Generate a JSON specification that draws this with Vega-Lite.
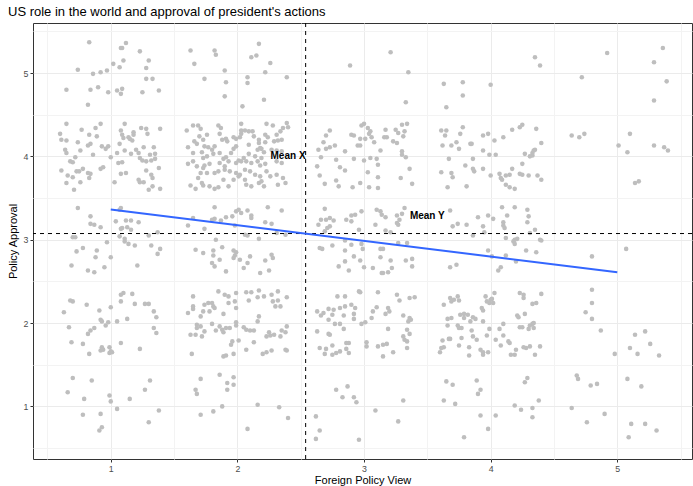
{
  "$schema": "https://vega.github.io/schema/vega-lite/v6.json",
  "width": 659,
  "height": 436,
  "autosize": "none",
  "padding": {"left": 33, "top": 23, "right": 1, "bottom": 27},
  "background": "white",
  "title": {"text": "US role in the world and approval of president's actions", "anchor": "start", "frame": "group", "dx": -25, "offset": 4, "fontSize": 13, "fontWeight": "normal", "color": "#000000", "font": "Liberation Sans"},
  "config": {
    "view": {"stroke": "#333333", "strokeWidth": 1},
    "axis": {"domain": false, "labelFont": "Liberation Sans", "titleFont": "Liberation Sans", "labelFontSize": 8.8, "labelColor": "#4D4D4D", "titleFontSize": 11, "titleFontWeight": "normal", "titleColor": "#000000", "tickColor": "#333333", "tickSize": 3, "labelPadding": 2}
  },
  "datasets": {
    "pts": [
{"x":0.83,"y":5.37},{"x":1.08,"y":5.30},{"x":1.09,"y":5.30},{"x":1.12,"y":5.36},{"x":1.23,"y":5.26},{"x":1.30,"y":5.15},{"x":1.02,"y":5.11},{"x":1.07,"y":5.07},{"x":1.10,"y":5.15},{"x":1.28,"y":5.06},{"x":0.74,"y":5.04},{"x":0.86,"y":4.99},{"x":0.92,"y":5.01},{"x":0.97,"y":5.03},{"x":1.28,"y":4.93},{"x":1.33,"y":4.93},{"x":0.65,"y":4.80},{"x":0.84,"y":4.80},{"x":0.90,"y":4.83},{"x":0.98,"y":4.77},{"x":1.05,"y":4.79},{"x":1.09,"y":4.81},{"x":1.08,"y":4.75},{"x":1.25,"y":4.77},{"x":1.38,"y":4.79},{"x":0.82,"y":4.62},
{"x":1.63,"y":5.27},{"x":1.66,"y":5.11},{"x":1.82,"y":5.27},{"x":1.83,"y":5.22},{"x":2.17,"y":5.35},{"x":2.11,"y":5.19},{"x":2.15,"y":5.21},{"x":2.26,"y":5.12},{"x":1.90,"y":5.03},{"x":2.22,"y":5.01},{"x":1.74,"y":4.93},{"x":1.91,"y":4.89},{"x":2.08,"y":4.95},{"x":2.08,"y":4.88},{"x":2.39,"y":4.95},{"x":1.90,"y":4.72},{"x":2.21,"y":4.68},{"x":2.04,"y":4.60},
{"x":2.89,"y":5.09},{"x":3.21,"y":5.25},{"x":3.35,"y":5.01},{"x":3.33,"y":4.65},{"x":3.63,"y":4.87},{"x":3.78,"y":4.89},{"x":3.78,"y":4.73},{"x":3.65,"y":4.59},
{"x":4.00,"y":4.86},{"x":4.35,"y":5.19},{"x":4.39,"y":5.09},{"x":4.72,"y":4.95},{"x":4.92,"y":5.24},{"x":5.36,"y":5.30},{"x":5.29,"y":5.13},{"x":5.39,"y":4.90},{"x":5.29,"y":4.67},
{"x":0.65,"y":4.39},{"x":0.77,"y":4.32},{"x":0.88,"y":4.34},{"x":0.92,"y":4.39},{"x":0.60,"y":4.27},{"x":0.61,"y":4.20},{"x":0.65,"y":4.19},{"x":0.74,"y":4.17},{"x":0.83,"y":4.26},{"x":0.89,"y":4.24},{"x":0.84,"y":4.15},{"x":0.82,"y":4.13},{"x":0.64,"y":4.08},{"x":0.65,"y":4.04},{"x":0.76,"y":4.07},{"x":0.86,"y":4.02},{"x":0.93,"y":4.12},{"x":0.96,"y":4.09},{"x":0.98,"y":4.12},{"x":0.72,"y":3.99},
{"x":1.11,"y":4.39},{"x":1.08,"y":4.31},{"x":1.09,"y":4.26},{"x":1.10,"y":4.22},{"x":1.14,"y":4.23},{"x":1.15,"y":4.21},{"x":1.18,"y":4.26},{"x":1.18,"y":4.29},{"x":1.17,"y":4.19},{"x":1.24,"y":4.34},{"x":1.28,"y":4.33},{"x":1.29,"y":4.27},{"x":1.39,"y":4.33},{"x":1.07,"y":4.15},{"x":1.00,"y":3.99},{"x":1.05,"y":4.04},{"x":1.11,"y":4.07},{"x":1.16,"y":4.03},{"x":1.20,"y":4.08},{"x":1.22,"y":4.04},{"x":1.23,"y":3.98},{"x":1.26,"y":4.11},{"x":1.34,"y":4.11},{"x":1.31,"y":4.02},{"x":1.35,"y":4.03},{"x":1.35,"y":3.97},
{"x":0.68,"y":3.94},{"x":0.70,"y":3.93},{"x":0.61,"y":3.83},{"x":0.66,"y":3.77},{"x":0.70,"y":3.75},{"x":0.73,"y":3.82},{"x":0.75,"y":3.82},{"x":0.78,"y":3.85},{"x":0.82,"y":3.80},{"x":0.84,"y":3.79},{"x":0.83,"y":3.74},{"x":0.76,"y":3.69},{"x":0.65,"y":3.68},{"x":0.71,"y":3.60},{"x":0.92,"y":3.85},{"x":0.94,"y":3.87},{"x":1.03,"y":3.69},{"x":1.06,"y":3.92},{"x":1.09,"y":3.93},{"x":1.08,"y":3.79},{"x":1.12,"y":3.80},{"x":1.25,"y":3.95},{"x":1.28,"y":3.94},{"x":1.32,"y":3.95},{"x":1.38,"y":3.86},{"x":1.28,"y":3.83},{"x":1.32,"y":3.78},{"x":1.33,"y":3.74},{"x":1.22,"y":3.72},{"x":1.23,"y":3.69},{"x":1.26,"y":3.69},{"x":1.33,"y":3.64},{"x":1.30,"y":3.60},{"x":1.39,"y":3.61},
{"x":0.74,"y":3.38},{"x":0.84,"y":3.28},{"x":0.84,"y":3.19},{"x":0.87,"y":3.18},{"x":0.92,"y":3.15},{"x":1.08,"y":3.38},{"x":1.07,"y":3.36},{"x":1.04,"y":3.22},{"x":1.12,"y":3.23},{"x":1.16,"y":3.23},{"x":1.22,"y":3.21},{"x":1.13,"y":3.15},{"x":1.16,"y":3.12},{"x":1.08,"y":3.13},{"x":1.09,"y":3.14},{"x":1.37,"y":3.09},{"x":1.30,"y":3.05},{"x":0.70,"y":3.03},{"x":0.72,"y":3.03},{"x":0.97,"y":2.97},{"x":1.07,"y":3.04},{"x":1.11,"y":3.01},{"x":1.11,"y":2.98},{"x":1.14,"y":2.95},{"x":1.19,"y":2.93},{"x":1.32,"y":2.93},{"x":1.39,"y":2.89},{"x":1.37,"y":2.83},{"x":0.78,"y":2.90},{"x":0.73,"y":2.86},{"x":0.89,"y":2.87},{"x":0.88,"y":2.79},{"x":1.00,"y":2.79},{"x":0.69,"y":2.69},{"x":0.82,"y":2.63},{"x":0.87,"y":2.61},{"x":0.95,"y":2.67},{"x":1.21,"y":2.69},
{"x":1.08,"y":2.34},{"x":1.10,"y":2.36},{"x":1.17,"y":2.35},{"x":0.68,"y":2.27},{"x":0.70,"y":2.26},{"x":0.81,"y":2.22},{"x":1.08,"y":2.26},{"x":1.19,"y":2.23},{"x":1.27,"y":2.23},{"x":1.30,"y":2.23},{"x":0.63,"y":2.13},{"x":0.91,"y":2.15},{"x":1.00,"y":2.19},{"x":1.34,"y":2.14},{"x":1.36,"y":2.07},{"x":0.67,"y":1.95},{"x":0.92,"y":2.04},{"x":0.93,"y":2.02},{"x":0.98,"y":2.01},{"x":1.05,"y":2.02},{"x":0.96,"y":1.97},{"x":1.13,"y":2.05},{"x":0.87,"y":1.94},{"x":0.84,"y":1.91},{"x":0.82,"y":1.87},{"x":1.34,"y":1.94},{"x":1.36,"y":1.88},{"x":0.69,"y":1.77},{"x":0.78,"y":1.75},{"x":0.83,"y":1.63},{"x":0.93,"y":1.71},{"x":0.92,"y":1.67},{"x":0.94,"y":1.68},{"x":0.99,"y":1.71},{"x":1.00,"y":1.66},{"x":1.01,"y":1.65},{"x":0.99,"y":1.64},{"x":1.08,"y":1.76},{"x":1.23,"y":1.69},
{"x":0.70,"y":1.34},{"x":0.85,"y":1.31},{"x":0.66,"y":1.17},{"x":0.79,"y":1.09},{"x":0.99,"y":1.13},{"x":1.00,"y":1.06},{"x":1.05,"y":0.97},{"x":1.15,"y":1.09},{"x":1.27,"y":1.20},{"x":1.31,"y":1.31},{"x":1.38,"y":0.95},{"x":0.78,"y":0.90},{"x":0.92,"y":0.91},{"x":1.30,"y":0.81},{"x":0.93,"y":0.75},{"x":0.91,"y":0.71},
{"x":1.60,"y":4.31},{"x":1.65,"y":4.37},{"x":1.69,"y":4.37},{"x":1.71,"y":4.33},{"x":1.70,"y":4.24},{"x":1.66,"y":4.18},{"x":1.68,"y":4.15},{"x":1.61,"y":4.11},{"x":1.73,"y":4.20},{"x":1.76,"y":4.26},{"x":1.74,"y":4.12},{"x":1.77,"y":4.11},{"x":1.80,"y":4.08},{"x":1.82,"y":4.12},{"x":1.85,"y":4.37},{"x":1.87,"y":4.34},{"x":1.86,"y":4.27},{"x":1.88,"y":4.20},{"x":1.91,"y":4.21},{"x":1.92,"y":4.18},{"x":1.97,"y":4.23},{"x":1.99,"y":4.21},{"x":2.02,"y":4.23},{"x":2.03,"y":4.27},{"x":2.03,"y":4.39},{"x":2.03,"y":4.31},{"x":2.06,"y":4.31},{"x":2.09,"y":4.30},{"x":2.12,"y":4.30},{"x":2.13,"y":4.24},{"x":2.17,"y":4.20},{"x":2.17,"y":4.16},{"x":2.18,"y":4.10},{"x":2.23,"y":4.39},{"x":2.28,"y":4.37},{"x":2.22,"y":4.26},{"x":2.24,"y":4.23},{"x":2.22,"y":4.17},{"x":2.31,"y":4.26},{"x":2.34,"y":4.30},{"x":2.36,"y":4.34},{"x":2.39,"y":4.40},{"x":2.40,"y":4.35},{"x":2.29,"y":4.18},{"x":2.32,"y":4.19},{"x":2.35,"y":4.20},{"x":1.65,"y":4.04},{"x":1.72,"y":4.05},{"x":1.73,"y":3.98},{"x":1.76,"y":4.00},{"x":1.81,"y":4.03},{"x":1.86,"y":4.04},{"x":1.89,"y":3.97},{"x":1.91,"y":3.99},{"x":1.95,"y":4.04},{"x":1.97,"y":4.09},{"x":1.99,"y":4.12},{"x":2.01,"y":3.95},{"x":2.05,"y":3.98},{"x":2.09,"y":4.14},{"x":2.09,"y":4.03},{"x":2.14,"y":4.00},{"x":2.16,"y":4.08},{"x":2.19,"y":3.98},{"x":2.19,"y":4.09},{"x":2.21,"y":4.05},{"x":2.27,"y":4.08},{"x":2.31,"y":4.07},{"x":2.35,"y":4.06},
{"x":1.65,"y":3.94},{"x":1.61,"y":3.91},{"x":1.68,"y":3.88},{"x":1.73,"y":3.86},{"x":1.74,"y":3.89},{"x":1.78,"y":3.91},{"x":1.86,"y":3.92},{"x":1.90,"y":3.88},{"x":1.93,"y":3.94},{"x":1.99,"y":3.92},{"x":2.03,"y":3.94},{"x":2.07,"y":3.94},{"x":2.11,"y":3.92},{"x":2.16,"y":3.94},{"x":2.18,"y":3.89},{"x":2.22,"y":3.91},{"x":2.31,"y":3.94},{"x":2.35,"y":3.92},
{"x":1.71,"y":3.80},{"x":1.76,"y":3.80},{"x":1.82,"y":3.80},{"x":1.85,"y":3.82},{"x":1.90,"y":3.84},{"x":1.94,"y":3.82},{"x":1.99,"y":3.80},{"x":2.02,"y":3.78},{"x":2.06,"y":3.84},{"x":2.10,"y":3.82},{"x":2.14,"y":3.78},{"x":2.18,"y":3.76},{"x":2.23,"y":3.82},{"x":2.26,"y":3.76},{"x":2.31,"y":3.78},{"x":2.36,"y":3.74},
{"x":1.69,"y":3.74},{"x":1.72,"y":3.68},{"x":1.67,"y":3.61},{"x":1.73,"y":3.65},{"x":1.78,"y":3.64},{"x":1.82,"y":3.61},{"x":1.85,"y":3.63},{"x":1.89,"y":3.72},{"x":1.93,"y":3.64},{"x":1.97,"y":3.72},{"x":2.01,"y":3.76},{"x":2.06,"y":3.72},{"x":2.07,"y":3.66},{"x":2.11,"y":3.64},{"x":2.17,"y":3.68},{"x":2.19,"y":3.70},{"x":2.21,"y":3.64},{"x":2.32,"y":3.66},{"x":2.38,"y":3.68},{"x":1.63,"y":3.65},
{"x":1.82,"y":3.39},{"x":1.65,"y":3.26},{"x":1.61,"y":3.17},{"x":1.74,"y":3.13},{"x":1.80,"y":3.24},{"x":1.82,"y":3.25},{"x":1.87,"y":3.23},{"x":1.91,"y":3.27},{"x":1.96,"y":3.28},{"x":1.99,"y":3.34},{"x":2.01,"y":3.36},{"x":2.03,"y":3.32},{"x":2.08,"y":3.35},{"x":2.11,"y":3.29},{"x":2.11,"y":3.26},{"x":1.98,"y":3.17},{"x":2.24,"y":3.39},{"x":2.22,"y":3.21},{"x":2.27,"y":3.19},{"x":2.35,"y":3.35},{"x":2.06,"y":3.06},{"x":2.08,"y":3.05},{"x":2.17,"y":3.01},{"x":2.31,"y":3.08},{"x":2.38,"y":3.06},{"x":1.83,"y":3.00},{"x":1.67,"y":2.88},{"x":1.73,"y":2.84},{"x":1.81,"y":2.87},{"x":1.81,"y":2.81},{"x":1.80,"y":2.72},{"x":1.82,"y":2.68},{"x":1.86,"y":2.76},{"x":1.88,"y":2.91},{"x":1.97,"y":2.87},{"x":1.99,"y":2.85},{"x":1.98,"y":2.81},{"x":1.97,"y":2.78},{"x":2.02,"y":2.76},{"x":2.10,"y":2.80},{"x":2.08,"y":2.72},{"x":2.05,"y":2.66},{"x":1.91,"y":2.62},{"x":2.22,"y":2.75},{"x":2.27,"y":2.82},{"x":2.28,"y":2.78},{"x":2.25,"y":2.63},{"x":2.18,"y":2.60},
{"x":1.65,"y":2.32},{"x":1.85,"y":2.38},{"x":1.90,"y":2.34},{"x":1.93,"y":2.32},{"x":1.99,"y":2.36},{"x":2.07,"y":2.37},{"x":2.11,"y":2.37},{"x":2.17,"y":2.39},{"x":2.21,"y":2.32},{"x":2.16,"y":2.31},{"x":2.27,"y":2.34},{"x":2.32,"y":2.38},{"x":2.39,"y":2.31},
{"x":1.61,"y":2.12},{"x":1.65,"y":2.20},{"x":1.65,"y":2.17},{"x":1.71,"y":2.08},{"x":1.73,"y":2.14},{"x":1.74,"y":2.22},{"x":1.77,"y":2.24},{"x":1.80,"y":2.24},{"x":1.81,"y":2.20},{"x":1.78,"y":2.14},{"x":1.82,"y":2.18},{"x":1.89,"y":2.11},{"x":1.93,"y":2.24},{"x":1.98,"y":2.26},{"x":1.99,"y":2.18},{"x":2.09,"y":2.27},{"x":2.17,"y":2.08},{"x":2.16,"y":2.02},{"x":2.28,"y":2.26},{"x":2.30,"y":2.20},{"x":2.32,"y":2.27},{"x":2.34,"y":2.20},
{"x":1.63,"y":1.86},{"x":1.67,"y":1.86},{"x":1.68,"y":1.98},{"x":1.68,"y":1.94},{"x":1.71,"y":1.96},{"x":1.72,"y":1.84},{"x":1.74,"y":1.90},{"x":1.80,"y":1.99},{"x":1.83,"y":1.91},{"x":1.86,"y":1.96},{"x":1.88,"y":1.92},{"x":1.89,"y":1.89},{"x":1.91,"y":1.94},{"x":1.94,"y":1.94},{"x":1.99,"y":2.01},{"x":1.99,"y":1.97},{"x":2.05,"y":1.95},{"x":2.07,"y":1.92},{"x":2.10,"y":1.91},{"x":2.13,"y":1.91},{"x":2.23,"y":1.84},{"x":2.25,"y":1.89},{"x":2.26,"y":1.85},{"x":2.29,"y":1.86},{"x":2.35,"y":1.91},{"x":2.38,"y":1.89},{"x":2.39,"y":1.96},{"x":2.34,"y":1.84},{"x":1.96,"y":1.78},{"x":1.95,"y":1.74},{"x":2.01,"y":1.79},{"x":2.13,"y":1.77},
{"x":1.64,"y":1.63},{"x":1.89,"y":1.60},{"x":1.91,"y":1.61},{"x":1.97,"y":1.63},{"x":2.07,"y":1.68},{"x":2.20,"y":1.63},{"x":2.23,"y":1.65},{"x":2.27,"y":1.67},{"x":2.38,"y":1.68},{"x":2.39,"y":1.67},
{"x":1.71,"y":1.33},{"x":1.67,"y":1.20},{"x":1.68,"y":1.15},{"x":1.86,"y":1.38},{"x":1.92,"y":1.28},{"x":1.97,"y":1.35},{"x":1.97,"y":1.26},{"x":1.92,"y":1.20},{"x":1.88,"y":1.00},{"x":1.81,"y":0.94},{"x":1.71,"y":0.90},{"x":2.16,"y":1.02},{"x":2.33,"y":0.99},{"x":2.40,"y":0.86},{"x":2.08,"y":0.73},
{"x":2.73,"y":4.31},{"x":2.70,"y":4.25},{"x":2.68,"y":4.17},{"x":2.64,"y":4.08},{"x":2.70,"y":4.09},{"x":2.73,"y":4.11},{"x":2.77,"y":4.13},{"x":2.66,"y":3.99},{"x":2.78,"y":3.96},{"x":2.85,"y":4.06},{"x":2.90,"y":4.26},{"x":2.92,"y":4.25},{"x":2.92,"y":3.97},{"x":2.95,"y":4.13},{"x":2.97,"y":4.13},{"x":2.97,"y":4.21},{"x":3.01,"y":4.21},{"x":2.98,"y":4.37},{"x":3.00,"y":4.39},{"x":3.03,"y":4.34},{"x":3.05,"y":4.30},{"x":3.04,"y":4.27},{"x":3.06,"y":4.23},{"x":3.08,"y":4.17},{"x":3.00,"y":3.95},{"x":3.05,"y":3.98},{"x":3.10,"y":3.97},{"x":3.13,"y":4.07},{"x":3.17,"y":4.32},{"x":3.16,"y":4.23},{"x":3.18,"y":4.23},{"x":3.23,"y":4.18},{"x":3.26,"y":4.16},{"x":3.25,"y":4.32},{"x":3.27,"y":4.28},{"x":3.30,"y":4.38},{"x":3.34,"y":4.39},{"x":3.32,"y":4.30},{"x":3.31,"y":4.24},{"x":3.30,"y":4.06},{"x":3.30,"y":4.02},{"x":3.33,"y":3.99},
{"x":2.63,"y":3.88},{"x":2.65,"y":3.77},{"x":2.69,"y":3.67},{"x":2.78,"y":3.71},{"x":2.80,"y":3.64},{"x":2.81,"y":3.87},{"x":2.85,"y":3.83},{"x":2.91,"y":3.63},{"x":2.97,"y":3.68},{"x":3.03,"y":3.81},{"x":3.04,"y":3.63},{"x":3.11,"y":3.75},{"x":3.11,"y":3.62},{"x":3.11,"y":3.90},{"x":3.29,"y":3.74},{"x":3.36,"y":3.85},{"x":3.38,"y":3.67},
{"x":2.69,"y":3.37},{"x":2.64,"y":3.18},{"x":2.66,"y":3.24},{"x":2.70,"y":3.24},{"x":2.73,"y":3.26},{"x":2.76,"y":3.23},{"x":2.71,"y":3.14},{"x":2.73,"y":3.16},{"x":2.69,"y":3.10},{"x":2.86,"y":3.24},{"x":2.90,"y":3.22},{"x":2.90,"y":3.29},{"x":2.93,"y":3.30},{"x":2.98,"y":3.34},{"x":3.09,"y":3.18},{"x":3.10,"y":3.36},{"x":3.13,"y":3.34},{"x":3.14,"y":3.30},{"x":3.17,"y":3.27},{"x":2.96,"y":3.12},{"x":3.17,"y":3.11},{"x":3.21,"y":3.09},{"x":3.26,"y":3.20},{"x":3.26,"y":3.29},{"x":3.28,"y":3.24},{"x":3.30,"y":3.31},{"x":3.32,"y":3.38},{"x":3.27,"y":3.18},{"x":2.65,"y":2.90},{"x":2.67,"y":2.89},{"x":2.75,"y":2.93},{"x":2.85,"y":2.99},{"x":2.90,"y":2.94},{"x":2.85,"y":2.87},{"x":2.98,"y":2.95},{"x":2.99,"y":2.89},{"x":3.13,"y":2.89},{"x":3.15,"y":2.89},{"x":3.27,"y":2.96},{"x":3.34,"y":2.96},{"x":2.85,"y":2.74},{"x":2.80,"y":2.68},{"x":2.88,"y":2.63},{"x":2.92,"y":2.80},{"x":2.97,"y":2.75},{"x":3.00,"y":2.67},{"x":3.07,"y":2.66},{"x":3.13,"y":2.79},{"x":3.14,"y":2.60},{"x":3.15,"y":2.60},{"x":3.19,"y":2.61},{"x":3.22,"y":2.66},{"x":3.21,"y":2.75},{"x":3.33,"y":2.75},{"x":3.38,"y":2.77},{"x":3.38,"y":2.68},
{"x":2.79,"y":2.32},{"x":2.85,"y":2.32},{"x":2.96,"y":2.38},{"x":2.97,"y":2.37},{"x":3.11,"y":2.37},{"x":3.26,"y":2.34},{"x":3.36,"y":2.30},{"x":3.40,"y":2.31},
{"x":2.63,"y":2.14},{"x":2.66,"y":2.09},{"x":2.68,"y":2.12},{"x":2.72,"y":2.17},{"x":2.75,"y":2.10},{"x":2.76,"y":2.16},{"x":2.72,"y":2.04},{"x":2.77,"y":1.99},{"x":2.81,"y":1.99},{"x":2.81,"y":2.18},{"x":2.84,"y":2.09},{"x":2.85,"y":2.20},{"x":2.90,"y":2.22},{"x":2.92,"y":2.11},{"x":2.92,"y":2.05},{"x":2.93,"y":2.18},{"x":2.98,"y":1.99},{"x":3.01,"y":2.01},{"x":3.06,"y":2.06},{"x":3.07,"y":2.14},{"x":3.10,"y":2.19},{"x":3.17,"y":2.11},{"x":3.19,"y":2.18},{"x":3.20,"y":2.14},{"x":3.28,"y":2.27},{"x":3.31,"y":2.09},{"x":3.35,"y":2.02},{"x":3.36,"y":2.06},{"x":3.37,"y":2.04},
{"x":2.63,"y":1.90},{"x":2.72,"y":1.87},{"x":2.73,"y":1.86},{"x":2.84,"y":1.93},{"x":2.65,"y":1.70},{"x":2.70,"y":1.69},{"x":2.69,"y":1.63},{"x":2.75,"y":1.62},{"x":2.75,"y":1.73},{"x":2.78,"y":1.64},{"x":2.81,"y":1.66},{"x":2.86,"y":1.76},{"x":2.88,"y":1.76},{"x":2.86,"y":1.69},{"x":2.88,"y":1.64},{"x":3.02,"y":1.77},{"x":3.02,"y":1.72},{"x":3.11,"y":1.72},{"x":3.15,"y":1.74},{"x":3.18,"y":1.75},{"x":3.15,"y":1.60},{"x":3.23,"y":1.65},{"x":3.19,"y":1.93},{"x":3.31,"y":1.84},{"x":3.32,"y":1.80},{"x":3.34,"y":1.78},{"x":3.34,"y":1.92},{"x":3.36,"y":1.87},{"x":3.34,"y":1.70},
{"x":2.78,"y":1.20},{"x":2.87,"y":1.24},{"x":2.83,"y":1.11},{"x":2.92,"y":1.11},{"x":2.94,"y":1.05},{"x":3.31,"y":1.07},{"x":3.09,"y":0.95},{"x":2.62,"y":0.88},{"x":2.65,"y":0.71},{"x":2.62,"y":0.61},{"x":2.96,"y":0.60},{"x":3.27,"y":0.82},
{"x":3.61,"y":4.31},{"x":3.65,"y":4.31},{"x":3.64,"y":4.25},{"x":3.78,"y":4.35},{"x":3.76,"y":4.27},{"x":3.73,"y":4.17},{"x":3.69,"y":4.13},{"x":3.62,"y":4.13},{"x":3.75,"y":4.09},{"x":3.84,"y":4.15},{"x":3.85,"y":4.15},{"x":3.67,"y":3.97},{"x":3.86,"y":3.97},{"x":3.94,"y":4.25},{"x":3.98,"y":4.27},{"x":3.94,"y":4.07},{"x":3.99,"y":4.02},{"x":4.04,"y":4.02},{"x":4.03,"y":4.19},{"x":4.10,"y":4.23},{"x":4.17,"y":4.32},{"x":4.23,"y":4.35},{"x":4.25,"y":4.38},{"x":4.36,"y":4.33},{"x":4.40,"y":4.16},{"x":4.27,"y":4.03},{"x":4.31,"y":4.00},{"x":4.33,"y":4.01},{"x":4.33,"y":4.04},{"x":4.34,"y":4.07},{"x":4.35,"y":4.08},
{"x":3.61,"y":3.81},{"x":3.66,"y":3.63},{"x":3.69,"y":3.80},{"x":3.70,"y":3.75},{"x":3.80,"y":3.89},{"x":3.81,"y":3.64},{"x":3.86,"y":3.85},{"x":3.87,"y":3.82},{"x":3.94,"y":3.85},{"x":4.00,"y":3.77},{"x":4.07,"y":3.79},{"x":4.08,"y":3.74},{"x":4.09,"y":3.72},{"x":4.12,"y":3.77},{"x":4.15,"y":3.78},{"x":4.17,"y":3.85},{"x":4.12,"y":3.66},{"x":4.15,"y":3.63},{"x":4.19,"y":3.61},{"x":4.23,"y":3.79},{"x":4.25,"y":3.78},{"x":4.25,"y":3.91},{"x":4.30,"y":3.77},{"x":4.37,"y":3.77},{"x":4.40,"y":3.72},
{"x":4.64,"y":4.25},{"x":4.70,"y":4.23},{"x":4.74,"y":4.27},{"x":5.01,"y":4.13},{"x":5.08,"y":4.05},{"x":5.10,"y":4.27},{"x":5.29,"y":4.13},{"x":5.37,"y":4.11},{"x":5.40,"y":4.07},{"x":5.14,"y":3.68},{"x":5.17,"y":3.70},
{"x":3.68,"y":3.35},{"x":3.70,"y":3.16},{"x":3.74,"y":3.19},{"x":3.81,"y":3.18},{"x":3.86,"y":3.05},{"x":3.90,"y":3.27},{"x":3.94,"y":3.16},{"x":3.95,"y":3.09},{"x":3.98,"y":3.29},{"x":4.02,"y":3.25},{"x":4.09,"y":3.39},{"x":4.10,"y":3.21},{"x":4.10,"y":3.17},{"x":4.11,"y":3.14},{"x":4.13,"y":3.29},{"x":4.19,"y":3.39},{"x":4.12,"y":3.02},{"x":4.18,"y":2.98},{"x":4.19,"y":3.00},{"x":4.21,"y":3.01},{"x":4.19,"y":2.95},{"x":4.29,"y":3.36},{"x":4.30,"y":3.28},{"x":4.29,"y":3.21},{"x":4.31,"y":3.08},{"x":4.35,"y":3.12},{"x":4.39,"y":3.00},{"x":4.40,"y":2.99},{"x":3.98,"y":2.87},{"x":4.01,"y":2.80},{"x":4.12,"y":2.81},{"x":4.20,"y":2.74},{"x":4.28,"y":2.87},{"x":4.36,"y":2.85},{"x":3.68,"y":2.67},{"x":3.73,"y":2.70},{"x":4.06,"y":2.63},{"x":4.08,"y":2.67},{"x":4.80,"y":2.80},{"x":5.07,"y":2.89},
{"x":3.68,"y":2.30},{"x":3.74,"y":2.32},{"x":3.96,"y":2.32},{"x":4.01,"y":2.29},{"x":4.03,"y":2.36},{"x":4.23,"y":2.36},{"x":4.26,"y":2.34},{"x":4.26,"y":2.30},{"x":4.40,"y":2.35},{"x":4.80,"y":2.40},
{"x":3.63,"y":2.22},{"x":3.69,"y":2.26},{"x":3.71,"y":2.28},{"x":3.75,"y":2.27},{"x":3.93,"y":2.18},{"x":3.94,"y":2.15},{"x":3.97,"y":2.26},{"x":3.99,"y":2.24},{"x":4.02,"y":2.24},{"x":4.00,"y":2.28},{"x":4.33,"y":2.23},{"x":4.36,"y":2.24},
{"x":3.76,"y":2.10},{"x":3.79,"y":2.11},{"x":3.79,"y":2.06},{"x":3.82,"y":2.10},{"x":3.84,"y":2.02},{"x":3.86,"y":2.07},{"x":3.88,"y":2.05},{"x":3.94,"y":2.02},{"x":3.66,"y":2.05},{"x":3.69,"y":2.06},{"x":3.66,"y":1.97},{"x":3.74,"y":1.97},{"x":3.75,"y":1.94},{"x":3.77,"y":1.94},
{"x":3.85,"y":1.91},{"x":3.86,"y":1.84},{"x":3.89,"y":1.80},{"x":3.97,"y":1.85},{"x":3.99,"y":1.93},{"x":4.04,"y":1.80},{"x":4.07,"y":1.93},{"x":4.10,"y":1.99},{"x":4.10,"y":1.85},{"x":4.08,"y":1.73},
{"x":3.62,"y":1.79},{"x":3.67,"y":1.81},{"x":3.68,"y":1.81},{"x":3.77,"y":1.82},{"x":3.75,"y":1.73},{"x":3.63,"y":1.71},{"x":3.61,"y":1.70},{"x":3.60,"y":1.65},{"x":3.83,"y":1.71},{"x":3.92,"y":1.68},{"x":3.94,"y":1.65},{"x":3.94,"y":1.62},{"x":3.98,"y":1.65},{"x":3.83,"y":1.61},
{"x":4.14,"y":1.78},{"x":4.15,"y":1.76},{"x":4.16,"y":1.62},{"x":4.19,"y":1.62},{"x":4.20,"y":1.68},{"x":4.26,"y":1.71},{"x":4.28,"y":1.70},{"x":4.31,"y":1.72},{"x":4.39,"y":1.72},{"x":4.35,"y":1.62},
{"x":4.21,"y":2.09},{"x":4.22,"y":2.07},{"x":4.27,"y":2.11},{"x":4.23,"y":1.95},{"x":4.25,"y":1.95},{"x":4.30,"y":1.93},{"x":4.31,"y":1.97},{"x":4.33,"y":1.99},{"x":4.34,"y":2.00},{"x":4.34,"y":1.94},
{"x":3.65,"y":1.30},{"x":3.70,"y":1.26},{"x":3.63,"y":1.07},{"x":3.72,"y":1.03},{"x":3.89,"y":1.31},{"x":3.92,"y":1.20},{"x":3.90,"y":1.15},{"x":3.92,"y":0.89},{"x":4.04,"y":0.89},{"x":3.98,"y":0.73},{"x":3.79,"y":0.63},{"x":4.19,"y":1.01},{"x":4.24,"y":0.96},{"x":4.29,"y":1.34},{"x":4.27,"y":1.29},{"x":4.33,"y":0.98},{"x":4.38,"y":1.07},{"x":4.33,"y":0.87},
{"x":4.80,"y":2.24},{"x":4.75,"y":2.13},{"x":4.80,"y":2.05},{"x":4.87,"y":1.91},{"x":4.98,"y":1.63},{"x":5.10,"y":1.70},{"x":5.14,"y":1.86},{"x":5.22,"y":1.90},{"x":5.26,"y":1.75},{"x":5.16,"y":1.63},{"x":5.33,"y":1.61},
{"x":4.68,"y":1.37},{"x":4.69,"y":1.33},{"x":4.79,"y":1.25},{"x":4.84,"y":1.27},{"x":4.64,"y":0.98},{"x":4.76,"y":0.81},{"x":4.90,"y":0.91},{"x":5.08,"y":1.33},{"x":5.19,"y":1.24},{"x":5.11,"y":0.79},{"x":5.22,"y":0.79},{"x":5.09,"y":0.63},{"x":5.31,"y":0.71}
    ],
    "fit": [{"x": 1, "y": 3.362}, {"x": 5, "y": 2.61}],
    "vline": [{"x": 2.539}],
    "hline": [{"y": 3.074}],
    "labels": [{"x": 2.40, "y": 4.0, "label": "Mean X"}, {"x": 3.50, "y": 3.28, "label": "Mean Y"}]
  },
  "layer": [
    {
      "data": {"name": "pts"},
      "mark": {"type": "circle", "color": "#BEBEBE", "opacity": 1, "size": 21},
      "encoding": {
        "x": {"field": "x", "type": "quantitative", "scale": {"domain": [0.386, 5.59], "nice": false, "zero": false},
          "title": "Foreign Policy View",
          "axis": {"values": [0.5, 1, 1.5, 2, 2.5, 3, 3.5, 4, 4.5, 5, 5.5], "labelExpr": "datum.value % 1 === 0 ? format(datum.value, 'd') : ''", "titlePadding": 2,
            "gridColor": {"condition": {"test": "datum.value % 1 !== 0", "value": "#F3F3F3"}, "value": "#EBEBEB"},
            "tickOpacity": {"condition": {"test": "datum.value % 1 !== 0", "value": 0}, "value": 1}}},
        "y": {"field": "y", "type": "quantitative", "scale": {"domain": [0.369, 5.60], "nice": false, "zero": false},
          "title": "Policy Approval",
          "axis": {"values": [0.5, 1, 1.5, 2, 2.5, 3, 3.5, 4, 4.5, 5, 5.5], "labelExpr": "datum.value % 1 === 0 ? format(datum.value, 'd') : ''", "titlePadding": 5,
            "gridColor": {"condition": {"test": "datum.value % 1 !== 0", "value": "#F3F3F3"}, "value": "#EBEBEB"},
            "tickOpacity": {"condition": {"test": "datum.value % 1 !== 0", "value": 0}, "value": 1}}}
      }
    },
    {
      "data": {"name": "hline"},
      "mark": {"type": "rule", "color": "#000000", "strokeWidth": 1, "strokeDash": [4, 4]},
      "encoding": {"y": {"field": "y", "type": "quantitative", "scale": {"domain": [0.369, 5.60], "nice": false, "zero": false}}}
    },
    {
      "data": {"name": "vline"},
      "mark": {"type": "rule", "color": "#000000", "strokeWidth": 1, "strokeDash": [4, 4]},
      "encoding": {"x": {"field": "x", "type": "quantitative", "scale": {"domain": [0.386, 5.59], "nice": false, "zero": false}}}
    },
    {
      "data": {"name": "fit"},
      "mark": {"type": "line", "color": "#3366FF", "strokeWidth": 2},
      "encoding": {
        "x": {"field": "x", "type": "quantitative", "scale": {"domain": [0.386, 5.59], "nice": false, "zero": false}},
        "y": {"field": "y", "type": "quantitative", "scale": {"domain": [0.369, 5.60], "nice": false, "zero": false}}
      }
    },
    {
      "data": {"name": "labels"},
      "mark": {"type": "text", "font": "Liberation Sans", "fontWeight": "bold", "fontSize": 10, "color": "#000000", "align": "center", "baseline": "middle"},
      "encoding": {
        "x": {"field": "x", "type": "quantitative", "scale": {"domain": [0.386, 5.59], "nice": false, "zero": false}},
        "y": {"field": "y", "type": "quantitative", "scale": {"domain": [0.369, 5.60], "nice": false, "zero": false}},
        "text": {"field": "label"}
      }
    }
  ]
}
